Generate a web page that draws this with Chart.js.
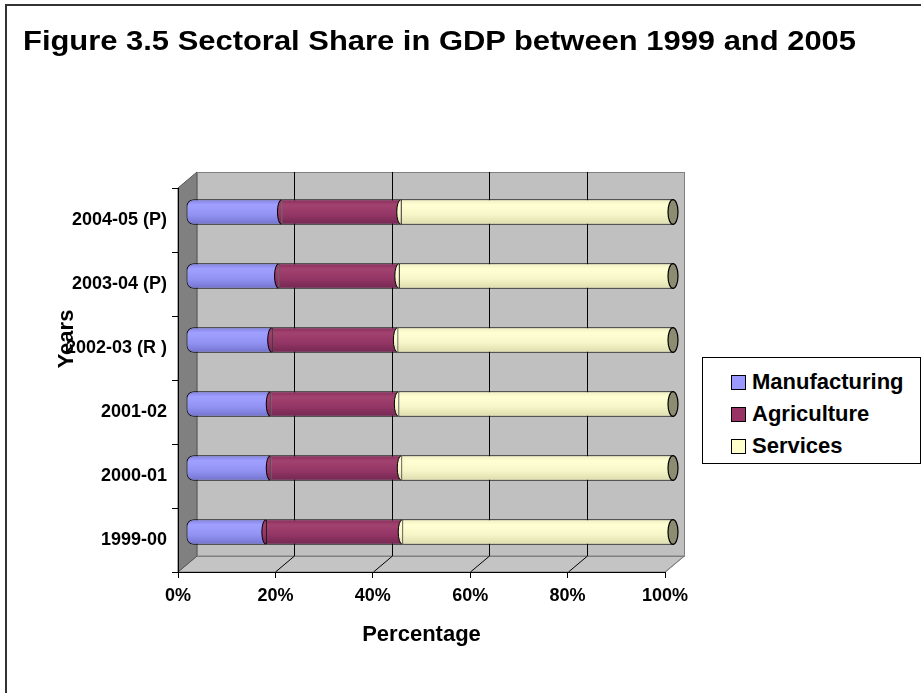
<!DOCTYPE html>
<html><head><meta charset="utf-8">
<script src="https://cdn.jsdelivr.net/npm/chart.js@4.4.1/dist/chart.umd.min.js"></script>
<style>
html,body{margin:0;padding:0;background:#fff;overflow:hidden;width:921px;height:693px;}
#frame{position:absolute;left:5px;top:4px;width:940px;height:720px;border:2px solid #333;box-sizing:border-box;}
#c{position:absolute;left:0;top:0;}
#title{position:absolute;left:23px;top:28px;margin:0;font-family:"Liberation Sans",Arial,sans-serif;font-weight:bold;font-size:27px;line-height:27px;color:#000;white-space:nowrap;transform-origin:0 0;}
#legend{position:absolute;left:702px;top:357px;width:219px;height:107px;border:1px solid #000;box-sizing:border-box;background:#fff;font-family:"Liberation Sans",Arial,sans-serif;font-weight:bold;font-size:22px;color:#000;}
.item{position:absolute;left:28px;height:26px;display:flex;align-items:center;white-space:nowrap;}
.sw{width:13px;height:13px;border:1px solid #000;margin-right:6px;}
</style></head>
<body>
<div id="frame"></div>
<canvas id="c" width="921" height="693"></canvas>
<div id="title">Figure 3.5 Sectoral Share in GDP between 1999 and 2005</div>
<div id="legend"></div>
<script>
// ---- data ----
const categories = ['1999-00', '2000-01', '2001-02', '2002-03 (R )', '2003-04 (P)', '2004-05 (P)'];
const manufacturing = [16.4, 17.3, 17.3, 17.6, 19.0, 19.6];
const agriculture = [28.0, 26.9, 26.3, 25.8, 24.7, 24.5];
const services = [55.6, 55.8, 56.4, 56.6, 56.3, 55.9];
const seriesNames = ['Manufacturing', 'Agriculture', 'Services'];
const xTicks = [0, 20, 40, 60, 80, 100];

const baseColors = ['#9999FF', '#993366', '#FFFFCC'];
const gradStops = [
  ['#8080E0', '#A0A0FF', '#9393F5', '#7272CC'],
  ['#862C59', '#A2426F', '#943666', '#722650'],
  ['#EDEDBD', '#FFFFD4', '#F6F6C8', '#DCDCAE']
];
const FONT = '"Liberation Sans", Arial, sans-serif';
const DX = 19, DY = -16;     // depth of the 3-D box
const BX = 8, BY = -8;       // bars sit half way back

// stretch title to the reference width
const t = document.getElementById('title');
t.style.transform = 'scaleX(' + (833 / t.getBoundingClientRect().width) + ')';

function cyl(i) {
  return (ctx) => {
    const chart = ctx.chart, ys = chart.scales.y;
    if (!ys || ctx.type !== 'data' || !chart.chartArea) return baseColors[i];
    const c = ys.getPixelForValue(ctx.dataIndex);
    const band = Math.abs(ys.getPixelForValue(1) - ys.getPixelForValue(0));
    const half = band * 0.2;
    const g = chart.ctx.createLinearGradient(0, c - half, 0, c + half);
    const s = gradStops[i];
    g.addColorStop(0, s[0]); g.addColorStop(0.22, s[1]); g.addColorStop(0.6, s[2]); g.addColorStop(1, s[3]);
    return g;
  };
}

// legend (HTML)
const leg = document.getElementById('legend');
seriesNames.forEach((n, i) => {
  const d = document.createElement('div');
  d.className = 'item';
  d.style.top = (11 + i * 32) + 'px';
  d.innerHTML = '<span class="sw" style="background:' + baseColors[i] + '"></span><span>' + n + '</span>';
  leg.appendChild(d);
});

const threeD = {
  id: 'threeD',
  beforeDraw(chart) {
    const {ctx, chartArea: a} = chart;
    const xs = chart.scales.x;
    ctx.save();
    ctx.lineWidth = 1;
    // back wall
    ctx.fillStyle = '#C0C0C0';
    ctx.fillRect(a.left + DX, a.top + DY, a.right - a.left, a.bottom - a.top);
    // floor
    ctx.beginPath();
    ctx.moveTo(a.left, a.bottom); ctx.lineTo(a.left + DX, a.bottom + DY);
    ctx.lineTo(a.right + DX, a.bottom + DY); ctx.lineTo(a.right, a.bottom); ctx.closePath();
    ctx.fillStyle = '#C4C4C4'; ctx.fill();
    ctx.strokeStyle = '#808080'; ctx.stroke();
    // left wall
    ctx.beginPath();
    ctx.moveTo(a.left, a.top); ctx.lineTo(a.left + DX, a.top + DY);
    ctx.lineTo(a.left + DX, a.bottom + DY); ctx.lineTo(a.left, a.bottom); ctx.closePath();
    ctx.fillStyle = '#808080'; ctx.fill();
    ctx.strokeStyle = '#555'; ctx.stroke();
    // wall outline
    ctx.strokeStyle = '#808080';
    ctx.strokeRect(a.left + DX + 0.5, a.top + DY + 0.5, a.right - a.left, a.bottom - a.top);
    // gridlines on wall + floor diagonals
    xTicks.forEach(v => {
      const px = Math.round(xs.getPixelForValue(v)) + 0.5;
      ctx.strokeStyle = '#000';
      if (v > 0 && v < 100) {
        ctx.beginPath(); ctx.moveTo(px + DX, a.top + DY); ctx.lineTo(px + DX, a.bottom + DY); ctx.stroke();
      }
      if (v > 0) {
        ctx.strokeStyle = v === 100 ? '#808080' : '#000';
        ctx.beginPath(); ctx.moveTo(px, a.bottom); ctx.lineTo(px + DX, a.bottom + DY); ctx.stroke();
      }
    });
    ctx.restore();
  },
  beforeDatasetsDraw(chart) {
    chart.ctx.save();
    chart.ctx.translate(BX, BY);
  },
  afterDatasetsDraw(chart) {
    const ctx = chart.ctx;
    // curved joins between the segments
    [1, 2].forEach(di => {
      chart.getDatasetMeta(di).data.forEach(el => {
        const p = el.getProps(['x', 'y', 'base', 'height'], true);
        ctx.beginPath();
        ctx.ellipse(p.base, p.y, 4, p.height / 2 - 0.5, 0, Math.PI / 2, Math.PI * 1.5);
        ctx.fillStyle = el.options.backgroundColor; ctx.fill();
        ctx.lineWidth = 1; ctx.strokeStyle = '#000'; ctx.stroke();
      });
    });
    // end caps of the cylinders
    chart.getDatasetMeta(2).data.forEach(el => {
      const p = el.getProps(['x', 'y', 'height'], true);
      ctx.beginPath();
      ctx.ellipse(p.x, p.y, 5, p.height / 2 - 0.5, 0, 0, Math.PI * 2);
      ctx.fillStyle = '#8C8C70'; ctx.fill();
      ctx.lineWidth = 1.2; ctx.strokeStyle = '#000'; ctx.stroke();
    });
    ctx.restore();
  },
  afterDraw(chart) {
    const ctx = chart.ctx;
    ctx.save();
    ctx.translate(67, 339);
    ctx.rotate(-Math.PI / 2);
    ctx.font = 'bold 22px ' + FONT;
    ctx.fillStyle = '#000';
    ctx.textAlign = 'center'; ctx.textBaseline = 'middle';
    ctx.fillText('Years', 0, 0);
    ctx.restore();
  }
};

const seriesData = [manufacturing, agriculture, services];
new Chart(document.getElementById('c'), {
  type: 'bar',
  data: {
    labels: categories,
    datasets: seriesData.map((d, i) => ({
      label: seriesNames[i],
      data: d,
      backgroundColor: cyl(i),
      borderColor: '#000',
      borderWidth: 1,
      borderSkipped: false,
      borderRadius: i === 0 ? {topLeft: 7, bottomLeft: 7, topRight: 0, bottomRight: 0} : 0,
      categoryPercentage: 1,
      barPercentage: 0.4,
      clip: false
    }))
  },
  options: {
    indexAxis: 'y',
    responsive: false,
    animation: false,
    devicePixelRatio: 1,
    layout: {padding: {left: 23, top: 188, right: 0, bottom: 0}},
    plugins: {
      legend: {display: false},
      tooltip: {enabled: false},
      title: {display: false}
    },
    scales: {
      x: {
        stacked: true,
        min: 0, max: 100,
        afterFit(s) { s.height = 121; },
        afterBuildTicks(s) { s.ticks = xTicks.map(v => ({value: v})); },
        ticks: {callback: v => v + '%', color: '#000', font: {family: FONT, size: 18, weight: 'bold'}, padding: 7, maxRotation: 0},
        grid: {drawOnChartArea: false, drawTicks: true, tickLength: 6, color: '#000'},
        border: {display: true, color: '#000', width: 1},
        title: {display: true, text: 'Percentage', color: '#000', font: {family: FONT, size: 22, weight: 'bold'}, padding: {top: 0, bottom: 45}}
      },
      y: {
        stacked: true,
        reverse: true,
        afterFit(s) { s.width = 155; },
        ticks: {color: '#000', font: {family: FONT, size: 18, weight: 'bold'}, padding: 5},
        grid: {drawOnChartArea: false, drawTicks: true, tickLength: 6, color: '#000', offset: true},
        border: {display: true, color: '#000', width: 1}
      },
      y2: {
        type: 'category',
        position: 'right',
        display: true,
        afterFit(s) { s.width = 256; },
        ticks: {display: false},
        grid: {display: false},
        border: {display: false}
      }
    }
  },
  plugins: [threeD]
});
</script>
</body></html>
